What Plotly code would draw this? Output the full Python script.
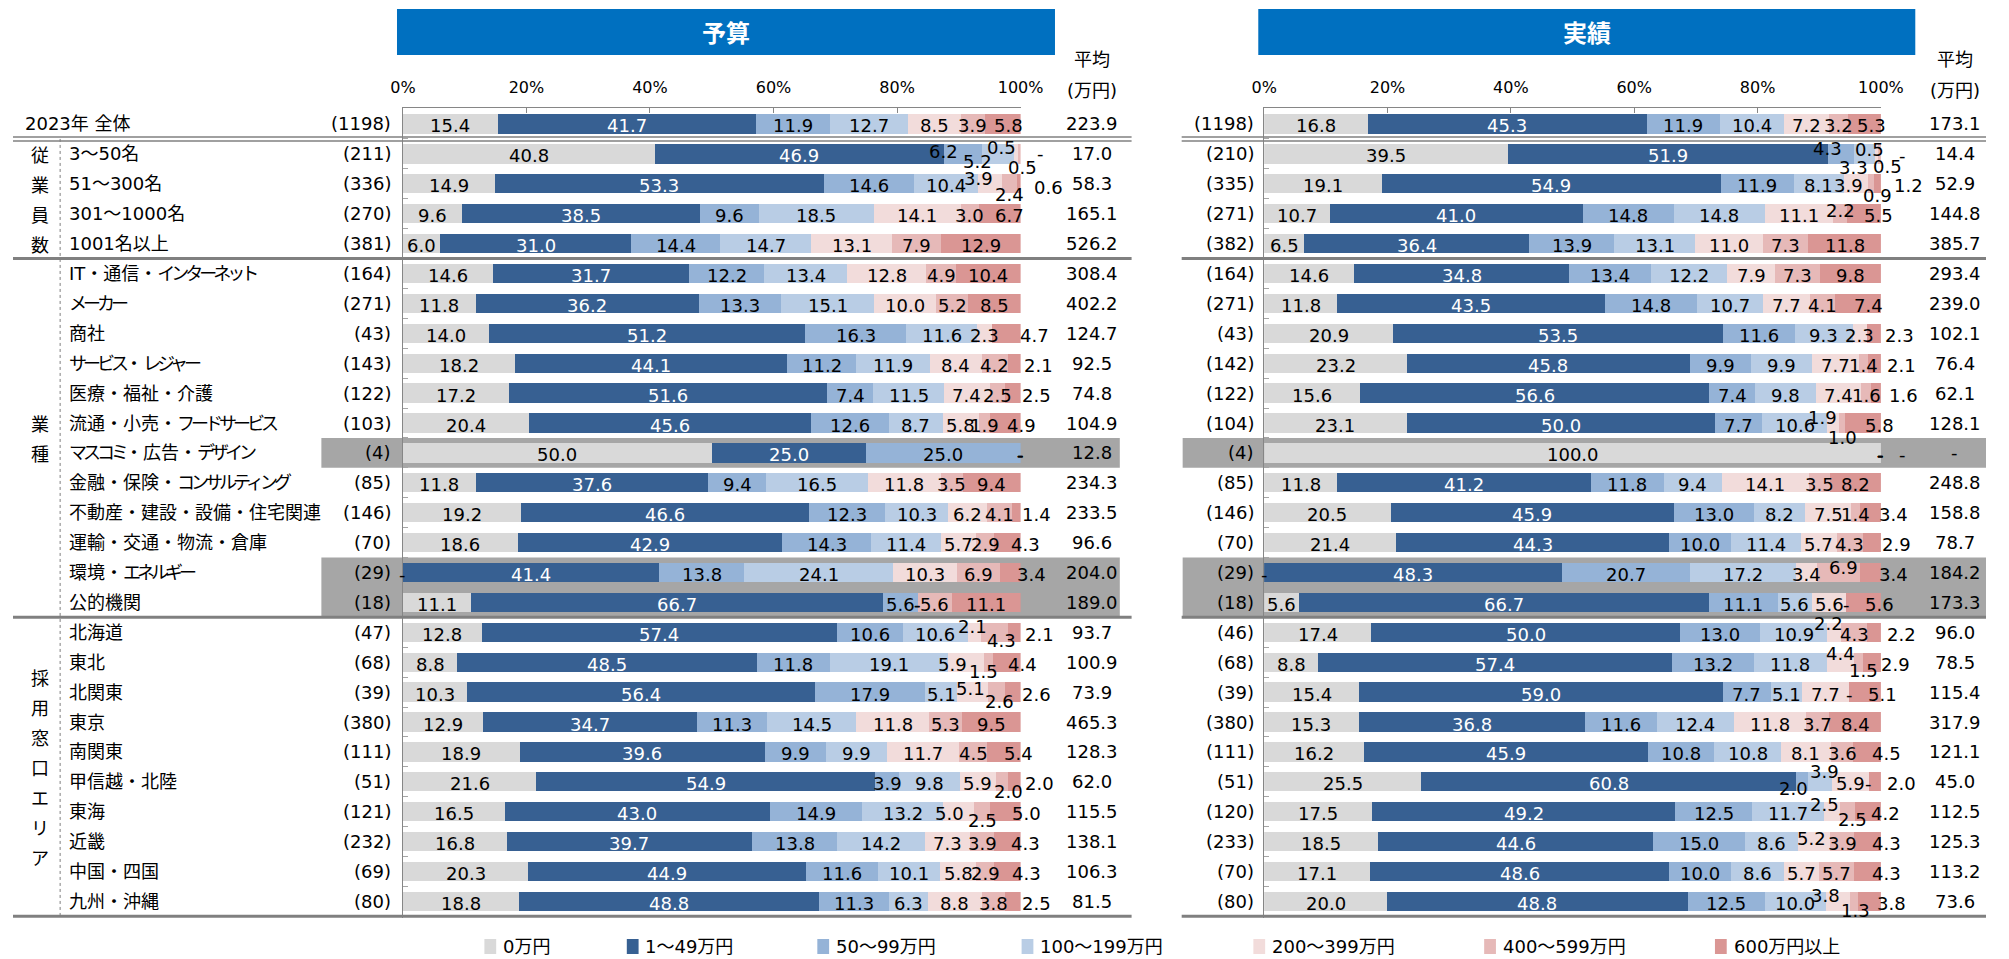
import re
import plotly.graph_objects as go

W, H = 2009, 959

# ---------------- data ----------------
row_labels = ["2023年 全体", "3～50名", "51～300名", "301～1000名", "1001名以上",
              "IT・通信・インターネット", "メーカー", "商社", "サービス・レジャー", "医療・福祉・介護",
              "流通・小売・フードサービス", "マスコミ・広告・デザイン", "金融・保険・コンサルティング",
              "不動産・建設・設備・住宅関連", "運輸・交通・物流・倉庫", "環境・エネルギー", "公的機関",
              "北海道", "東北", "北関東", "東京", "南関東", "甲信越・北陸", "東海", "近畿", "中国・四国", "九州・沖縄"]

cat_names = ["0万円", "1～49万円", "50～99万円", "100～199万円", "200～399万円", "400～599万円", "600万円以上"]
bar_colors = ["#d9d9d9", "#376092", "#95b3d7", "#b9cde5", "#f2dcdb", "#e6b9b8", "#da9694"]

budget_n = [1198, 211, 336, 270, 381, 164, 271, 43, 143, 122, 103, 4, 85, 146, 70, 29, 18,
            47, 68, 39, 380, 111, 51, 121, 232, 69, 80]
actual_n = [1198, 210, 335, 271, 382, 164, 271, 43, 142, 122, 104, 4, 85, 146, 70, 29, 18,
            46, 68, 39, 380, 111, 51, 120, 233, 70, 80]

budget_avg = [223.9, 17.0, 58.3, 165.1, 526.2, 308.4, 402.2, 124.7, 92.5, 74.8, 104.9, 12.8, 234.3,
              233.5, 96.6, 204.0, 189.0, 93.7, 100.9, 73.9, 465.3, 128.3, 62.0, 115.5, 138.1, 106.3, 81.5]
actual_avg = [173.1, 14.4, 52.9, 144.8, 385.7, 293.4, 239.0, 102.1, 76.4, 62.1, 128.1, None, 248.8,
              158.8, 78.7, 184.2, 173.3, 96.0, 78.5, 115.4, 317.9, 121.1, 45.0, 112.5, 125.3, 113.2, 73.6]

# 予算 (budget) shares, %
b_zero = [15.4, 40.8, 14.9, 9.6, 6.0, 14.6, 11.8, 14.0, 18.2, 17.2, 20.4, 50.0, 11.8, 19.2, 18.6, 0,
          11.1, 12.8, 8.8, 10.3, 12.9, 18.9, 21.6, 16.5, 16.8, 20.3, 18.8]
b_1_49 = [41.7, 46.9, 53.3, 38.5, 31.0, 31.7, 36.2, 51.2, 44.1, 51.6, 45.6, 25.0, 37.6, 46.6, 42.9, 41.4,
          66.7, 57.4, 48.5, 56.4, 34.7, 39.6, 54.9, 43.0, 39.7, 44.9, 48.8]
b_50_99 = [11.9, 6.2, 14.6, 9.6, 14.4, 12.2, 13.3, 16.3, 11.2, 7.4, 12.6, 25.0, 9.4, 12.3, 14.3, 13.8,
           5.6, 10.6, 11.8, 17.9, 11.3, 9.9, 3.9, 14.9, 13.8, 11.6, 11.3]
b_100_199 = [12.7, 5.2, 10.4, 18.5, 14.7, 13.4, 15.1, 11.6, 11.9, 11.5, 8.7, 0, 16.5, 10.3, 11.4, 24.1,
             0, 10.6, 19.1, 5.1, 14.5, 9.9, 9.8, 13.2, 14.2, 10.1, 6.3]
b_200_399 = [8.5, 0.5, 3.9, 14.1, 13.1, 12.8, 10.0, 2.3, 8.4, 7.4, 5.8, 0, 11.8, 6.2, 5.7, 10.3,
             0, 2.1, 5.9, 5.1, 11.8, 11.7, 5.9, 5.0, 7.3, 5.8, 8.8]
b_400_599 = [3.9, 0.5, 2.4, 3.0, 7.9, 4.9, 5.2, 0, 4.2, 2.5, 1.9, 0, 3.5, 4.1, 2.9, 6.9,
             5.6, 4.3, 1.5, 2.6, 5.3, 4.5, 2.0, 2.5, 3.9, 2.9, 3.8]
b_600 = [5.8, 0, 0.6, 6.7, 12.9, 10.4, 8.5, 4.7, 2.1, 2.5, 4.9, 0, 9.4, 1.4, 4.3, 3.4,
         11.1, 2.1, 4.4, 2.6, 9.5, 5.4, 2.0, 5.0, 4.3, 4.3, 2.5]

# 実績 (actual) shares, %
a_zero = [16.8, 39.5, 19.1, 10.7, 6.5, 14.6, 11.8, 20.9, 23.2, 15.6, 23.1, 100.0, 11.8, 20.5, 21.4, 0,
          5.6, 17.4, 8.8, 15.4, 15.3, 16.2, 25.5, 17.5, 18.5, 17.1, 20.0]
a_1_49 = [45.3, 51.9, 54.9, 41.0, 36.4, 34.8, 43.5, 53.5, 45.8, 56.6, 50.0, 0, 41.2, 45.9, 44.3, 48.3,
          66.7, 50.0, 57.4, 59.0, 36.8, 45.9, 60.8, 49.2, 44.6, 48.6, 48.8]
a_50_99 = [11.9, 4.3, 11.9, 14.8, 13.9, 13.4, 14.8, 11.6, 9.9, 7.4, 7.7, 0, 11.8, 13.0, 10.0, 20.7,
           11.1, 13.0, 13.2, 7.7, 11.6, 10.8, 2.0, 12.5, 15.0, 10.0, 12.5]
a_100_199 = [10.4, 3.3, 8.1, 14.8, 13.1, 12.2, 10.7, 9.3, 9.9, 9.8, 10.6, 0, 9.4, 8.2, 11.4, 17.2,
             5.6, 10.9, 11.8, 5.1, 12.4, 10.8, 3.9, 11.7, 8.6, 8.6, 10.0]
a_200_399 = [7.2, 0.5, 3.9, 11.1, 11.0, 7.9, 7.7, 2.3, 7.7, 7.4, 1.9, 0, 14.1, 7.5, 5.7, 3.4,
             5.6, 2.2, 4.4, 7.7, 11.8, 8.1, 5.9, 2.5, 5.2, 5.7, 3.8]
a_400_599 = [3.2, 0.5, 0.9, 2.2, 7.3, 7.3, 4.1, 0, 1.4, 1.6, 1.0, 0, 3.5, 1.4, 4.3, 6.9,
             0, 4.3, 1.5, 0, 3.7, 3.6, 0, 2.5, 3.9, 5.7, 1.3]
a_600 = [5.3, 0, 1.2, 5.5, 11.8, 9.8, 7.4, 2.3, 2.1, 1.6, 5.8, 0, 8.2, 3.4, 2.9, 3.4,
         5.6, 2.2, 2.9, 5.1, 8.4, 4.5, 2.0, 4.2, 4.3, 4.3, 3.8]

budget = [b_zero, b_1_49, b_50_99, b_100_199, b_200_399, b_400_599, b_600]
actual = [a_zero, a_1_49, a_50_99, a_100_199, a_200_399, a_400_599, a_600]

# ---------------- styling ----------------
NUM_FONT = "DejaVu Sans, Noto Sans CJK JP"
JP_FONT = "Noto Sans CJK JP, DejaVu Sans"
LINE_GRAY = "#808080"
AXIS_GRAY = "#868686"

# manual label nudges, (panel, row, segment) -> (dx px, dy px; +dy = down)
nudge = {
    (0, 0, 6): (6, 0),
    (0, 1, 2): (-20, -4), (0, 1, 3): (-21, 6), (0, 1, 4): (-14, -8), (0, 1, 5): (3, 12), (0, 1, 6): (20, -2),
    (0, 2, 4): (-12, -7), (0, 2, 5): (0, 9), (0, 2, 6): (30, 2),
    (0, 3, 6): (10, 0),
    (0, 7, 6): (28, 0), (0, 8, 6): (24, 0), (0, 9, 6): (24, 0), (0, 10, 6): (16, 0),
    (0, 13, 6): (20, 0), (0, 14, 6): (18, 0), (0, 15, 6): (21, 0),
    (0, 17, 4): (-2, -8), (0, 17, 5): (7, 6), (0, 17, 6): (25, 0),
    (0, 18, 4): (-13, 0), (0, 18, 5): (-5, 7), (0, 18, 6): (15, 0),
    (0, 19, 4): (-2, -6), (0, 19, 5): (3, 7), (0, 19, 6): (24, 0),
    (0, 21, 6): (15, 0),
    (0, 22, 5): (6, 8), (0, 22, 6): (25, 0),
    (0, 23, 4): (-9, 0), (0, 23, 5): (0, 7), (0, 23, 6): (21, 0),
    (0, 24, 6): (18, 0), (0, 25, 6): (19, 0), (0, 26, 6): (24, 0),
    (1, 0, 6): (7, 0),
    (1, 1, 2): (-14, -7), (1, 1, 3): (-11, 12), (1, 1, 4): (-7, -6), (1, 1, 5): (8, 11), (1, 1, 6): (22, 0),
    (1, 2, 4): (-7, 0), (1, 2, 5): (7, 10), (1, 2, 6): (31, 0),
    (1, 3, 5): (0, -5), (1, 3, 6): (15, 0),
    (1, 6, 6): (10, 0),
    (1, 7, 6): (26, 0), (1, 8, 6): (27, 0), (1, 9, 6): (28, 0),
    (1, 10, 4): (-11, -8), (1, 10, 5): (0, 12), (1, 10, 6): (16, 0),
    (1, 11, 6): (22, 0),
    (1, 13, 6): (23, 0), (1, 14, 6): (25, 0),
    (1, 15, 5): (5, -7), (1, 15, 6): (23, 0),
    (1, 16, 6): (16, 0),
    (1, 17, 4): (-6, -11), (1, 17, 6): (27, 0),
    (1, 18, 4): (0, -11), (1, 18, 5): (5, 6), (1, 18, 6): (24, 0),
    (1, 19, 6): (17, 0), (1, 21, 6): (19, 0),
    (1, 22, 2): (-9, 5), (1, 22, 3): (4, -12), (1, 22, 6): (27, 0),
    (1, 23, 4): (-7, -9), (1, 23, 5): (5, 6), (1, 23, 6): (18, 0),
    (1, 24, 4): (-3, -5), (1, 24, 6): (19, 0), (1, 25, 6): (19, 0),
    (1, 26, 4): (-12, -8), (1, 26, 5): (2, 7), (1, 26, 6): (22, 0),
}
hidden = {(0, 7, 5), (1, 7, 5)}

ROW0_PX, STEP_PX, AX_TOP_PX, AX_BOT_PX = 124, 29.9, 108, 918
n_rows = len(row_labels)
rows_idx = list(range(n_rows))
y_range = [n_rows - 1 + (AX_BOT_PX - (ROW0_PX + (n_rows - 1) * STEP_PX)) / STEP_PX,
           -(ROW0_PX - AX_TOP_PX) / STEP_PX]


def px(p):
    return p / W


def py(p):
    return 1 - p / H


KANA = re.compile(r"([\u30A1-\u30FA\u30FC]+)")


def narrow_kana(s):
    # proportional-looking katakana, as in the original font
    return KANA.sub(lambda m: f"<span style=\"letter-spacing:-4px\">{m.group(1)}</span>", s)


fig = go.Figure()
panels = [(budget, "x", "y"), (actual, "x2", "y2")]
for series, xa, ya in panels:
    for k, vals in enumerate(series):
        fig.add_trace(go.Bar(y=rows_idx, x=vals, orientation="h", width=0.645,
                             marker=dict(color=bar_colors[k], line=dict(width=0)),
                             xaxis=xa, yaxis=ya, name=cat_names[k], showlegend=False,
                             hoverinfo="skip"))

ann = []


def txt(x, y, text, xref="paper", yref="paper", xanchor="center", size=18, family=NUM_FONT,
        color="black", **kw):
    ann.append(dict(x=x, y=y, xref=xref, yref=yref, text=text, showarrow=False,
                    xanchor=xanchor, yanchor="middle", align="left" if xanchor == "left" else "center",
                    font=dict(family=family, size=size, color=color), **kw))


# bar value labels
for p, (series, xa, ya) in enumerate(panels):
    for r in rows_idx:
        vals = [series[k][r] for k in range(7)]
        total = sum(vals)
        cum = 0
        for k, v in enumerate(vals):
            center = (cum + v / 2) / total * 100
            cum += v
            if (p, r, k) in hidden:
                continue
            dx, dy = nudge.get((p, r, k), (0, 0))
            color = "white" if (k == 1 and v > 0) else "black"
            txt(center, r, f"{v:.1f}" if v > 0 else "-", xref=xa, yref=ya, color=color,
                xshift=dx, yshift=-(dy + 2))

# row labels, counts, averages
for r in rows_idx:
    txt(px(10 if r == 0 else 55), r, narrow_kana(row_labels[r]), yref="y", xanchor="left")
    txt(px(387), r, f"({budget_n[r]})", yref="y", xanchor="right")
    txt(px(1266), r, f"({actual_n[r]})", yref="y", xanchor="right")
    for xc, avg in [(1099, budget_avg[r]), (1977, actual_avg[r])]:
        txt(px(xc), r, "-" if avg is None else f"{avg:.1f}", yref="y")

# vertical group labels
groups = [("従業員数", 1, 4), ("業種", 5, 16), ("採用窓口エリア", 17, 26)]
for text, r0, r1 in groups:
    mid = (r0 + r1) / 2
    n = len(text)
    for i, ch in enumerate(text):
        txt(px(27), mid + (i - (n - 1) / 2), ch, yref="y", family=JP_FONT)

# headers
for xc in [1099, 1977]:
    txt(px(xc), py(58), "平均", family=JP_FONT)
    txt(px(xc), py(90), "(万円)")

shapes = []
# title boxes
for (x0, x1), title in [((391, 1061), "予算"), ((1268, 1937), "実績")]:
    shapes.append(dict(type="rect", xref="paper", yref="paper", x0=px(x0), x1=px(x1),
                       y0=py(55), y1=py(9), fillcolor="#0070c0", line=dict(width=0), layer="below"))
    txt(px((x0 + x1) / 2), py(32), f"<b>{title}</b>", family=JP_FONT, size=24, color="white")

# highlighted rows (small samples)
for (ra, rb) in [(11, 11), (15, 16)]:
    for (x0, x1) in [(314, 1127), (1191, W)]:
        shapes.append(dict(type="rect", xref="paper", yref="y", x0=px(x0), x1=px(x1),
                           y0=ra - 0.5, y1=rb + 0.5, fillcolor="#a6a6a6", line=dict(width=0),
                           layer="below"))

# separators
for (x0, x1) in [(0, 1139), (1190, W)]:
    for off in (-0.067, 0.067):
        shapes.append(dict(type="line", xref="paper", yref="y", x0=px(x0), x1=px(x1),
                           y0=0.5 + off, y1=0.5 + off, line=dict(color=LINE_GRAY, width=1.5)))
    for b in (4.5, 16.5, n_rows - 0.5):
        shapes.append(dict(type="line", xref="paper", yref="y", x0=px(x0), x1=px(x1),
                           y0=b, y1=b, line=dict(color=LINE_GRAY, width=3)))

shapes.append(dict(type="line", xref="paper", yref="y", x0=px(48), x1=px(48), y0=0.5, y1=n_rows - 0.5,
                   line=dict(color="#7f7f7f", width=1, dash="dot")))

# legend (manual)
legend_x = [480, 625, 819, 1027, 1263, 1498, 1733]
for k, lx in enumerate(legend_x):
    shapes.append(dict(type="rect", xref="paper", yref="paper", x0=px(lx), x1=px(lx + 12),
                       y0=py(954), y1=py(939), fillcolor=bar_colors[k], line=dict(width=0)))
    txt(px(lx + 17), py(946), cat_names[k], xanchor="left", size=18)

common_x = dict(range=[0, 100], side="top", tickvals=[0, 20, 40, 60, 80, 100],
                ticktext=["0%", "20%", "40%", "60%", "80%", "100%"], ticks="inside", ticklen=5,
                tickcolor=AXIS_GRAY, showline=True, linecolor=AXIS_GRAY, linewidth=1,
                showgrid=False, zeroline=False, ticklabelstandoff=8, fixedrange=True,
                tickfont=dict(family=NUM_FONT, size=16, color="black"))
common_y = dict(range=y_range, domain=[1 - AX_BOT_PX / H, 1 - AX_TOP_PX / H],
                tickvals=[i + 0.5 for i in rows_idx[:-1]], ticks="inside", ticklen=5,
                tickcolor="#a6a6a6", showticklabels=False, showline=True, linecolor=AXIS_GRAY,
                linewidth=1, showgrid=False, zeroline=False, fixedrange=True)

fig.update_layout(
    width=W, height=H, margin=dict(l=0, r=0, t=0, b=0),
    paper_bgcolor="white", plot_bgcolor="rgba(0,0,0,0)",
    barmode="stack", barnorm="percent", bargap=0.35,
    xaxis=dict(domain=[px(397), px(1026)], anchor="y", **common_x),
    xaxis2=dict(domain=[px(1274), px(1902)], anchor="y2", **common_x),
    yaxis=dict(anchor="x", **common_y),
    yaxis2=dict(anchor="x2", **common_y),
    annotations=ann, shapes=shapes, showlegend=False,
    font=dict(family=NUM_FONT, color="black"),
)

fig.write_html("out.html", config={"displayModeBar": False},
               post_script="document.body.style.margin='0';document.body.style.overflow='hidden';")
